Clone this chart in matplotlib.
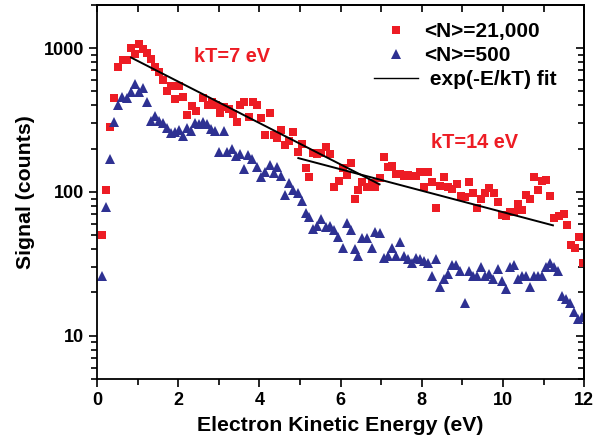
import matplotlib.pyplot as plt
from matplotlib.lines import Line2D
from matplotlib.ticker import LogLocator, NullFormatter, MultipleLocator

plt.rcParams['font.family'] = ['Liberation Sans', 'DejaVu Sans']
plt.rcParams['font.weight'] = 'bold'

# <N>=21,000 (red squares)
red_x = [0.12, 0.22, 0.32, 0.42, 0.52, 0.64, 0.74, 0.84, 0.94, 1.04, 1.14, 1.23, 1.33,
         1.43, 1.53, 1.63, 1.73, 1.83, 1.93, 2.02, 2.12, 2.22, 2.35, 2.44, 2.62, 2.74,
         2.84, 2.94, 3.04, 3.14, 3.26, 3.36, 3.46, 3.53, 3.63, 3.75, 3.85, 3.95, 4.05,
         4.15, 4.25, 4.35, 4.44, 4.54, 4.64, 4.74, 4.84, 4.94, 5.04, 5.14, 5.23, 5.33,
         5.43, 5.53, 5.65, 5.75, 5.85, 5.95, 6.05, 6.15, 6.25, 6.35, 6.44, 6.54, 6.64,
         6.77, 6.86, 6.96, 7.06, 7.16, 7.26, 7.36, 7.46, 7.56, 7.65, 7.75, 7.85, 7.95,
         8.05, 8.15, 8.25, 8.35, 8.44, 8.54, 8.64, 8.74, 8.86, 8.96, 9.06, 9.16, 9.26,
         9.36, 9.46, 9.56, 9.65, 9.78, 9.88, 9.98, 10.07, 10.17, 10.27, 10.37, 10.47,
         10.57, 10.67, 10.77, 10.86, 10.96, 11.06, 11.16, 11.26, 11.38, 11.51, 11.58,
         11.68, 11.78, 11.88, 11.98]
red_y = [50, 104, 285, 447, 746, 822, 830, 1000, 905, 1075, 980, 920, 835,
         735, 680, 605, 500, 545, 440, 545, 460, 345, 395, 365, 447, 400,
         425, 405, 357, 393, 375, 346, 305, 400, 420, 330, 420, 405, 325,
         250, 357, 250, 236, 268, 212, 228, 260, 189, 214, 146, 128, 186,
         185, 186, 207, 183, 109, 120, 146, 132, 160, 90, 103, 118, 108,
         115, 108, 125, 174, 148, 151, 133, 133, 130, 131, 130, 130, 137,
         108, 137, 117, 77, 110, 127, 108, 105, 113, 93, 92, 117, 98,
         77, 90, 98, 106, 98, 85, 69, 68, 72, 73, 83, 75,
         95, 90, 127, 103, 119, 121, 93, 66, 68, 70, 59,
         43, 41, 49, 32]

# <N>=500 (blue triangles)
blue_x = [0.12, 0.22, 0.32, 0.42, 0.52, 0.62, 0.74, 0.84, 0.94, 1.04, 1.14, 1.23, 1.33,
          1.43, 1.53, 1.63, 1.73, 1.83, 1.93, 2.02, 2.12, 2.22, 2.32, 2.42, 2.52, 2.62,
          2.72, 2.81, 2.91, 3.01, 3.14, 3.21, 3.33, 3.43, 3.53, 3.63, 3.73, 3.83, 3.93,
          4.05, 4.15, 4.25, 4.35, 4.44, 4.54, 4.64, 4.74, 4.84, 4.94, 5.04, 5.14, 5.23,
          5.33, 5.43, 5.53, 5.63, 5.73, 5.83, 5.93, 6.05, 6.15, 6.25, 6.35, 6.44, 6.54,
          6.64, 6.77, 6.86, 6.96, 7.06, 7.16, 7.26, 7.36, 7.46, 7.56, 7.65, 7.75, 7.85,
          7.95, 8.05, 8.15, 8.25, 8.35, 8.44, 8.54, 8.64, 8.74, 8.84, 8.94, 9.06, 9.16,
          9.26, 9.36, 9.46, 9.56, 9.65, 9.75, 9.88, 9.98, 10.07, 10.17, 10.27, 10.37,
          10.47, 10.57, 10.67, 10.77, 10.86, 10.96, 11.06, 11.16, 11.26, 11.36, 11.46,
          11.56, 11.65, 11.75, 11.85, 11.95]
blue_y = [26, 79, 169, 305, 400, 460, 447, 495, 560, 495, 525, 425, 310,
          340, 310, 300, 277, 256, 260, 268, 245, 280, 265, 300, 295, 305,
          295, 272, 265, 190, 265, 190, 200, 177, 185, 144, 180, 170, 150,
          128, 137, 153, 135, 150, 130, 95, 115, 103, 99, 87, 71, 67,
          55, 58, 65, 57, 58, 54, 49, 41, 61, 54, 40, 36, 48,
          48, 41, 53, 52, 35, 36, 41, 36, 45, 36, 34, 32, 35,
          34, 33, 32, 26, 34, 22, 25, 27, 31, 31, 28, 17, 28,
          26, 26, 30, 26, 27, 25, 29, 24, 21, 30, 31, 25,
          26, 26, 22, 26, 26, 26, 30, 32, 30, 28, 19,
          18, 17, 14.6, 13, 13.5]

# exp(-E/kT) fit lines (end points)
fit1_x = [0.84, 6.96]
fit1_y = [861, 113]
fit2_x = [4.96, 11.23]
fit2_y = [172, 58.6]

red = '#ed1c24'
blue = '#2e3192'

fig = plt.figure(figsize=(6.06, 4.48), dpi=100)
ax = fig.add_axes([0.16, 0.154, 0.804, 0.835])

ax.plot(red_x, red_y, 's', color=red, markersize=6, markeredgewidth=0)
ax.plot(blue_x, blue_y, '^', color=blue, markersize=7.2, markeredgewidth=0)
ax.plot(fit1_x, fit1_y, '-', color='black', lw=1.4)
ax.plot(fit2_x, fit2_y, '-', color='black', lw=1.4)

ax.set_yscale('log')
ax.set_xlim(0, 12)
ax.set_ylim(5, 2000)
ax.xaxis.set_major_locator(MultipleLocator(2))
ax.xaxis.set_minor_locator(MultipleLocator(1))
ax.yaxis.set_minor_locator(LogLocator(base=10, subs=range(2, 10)))
ax.yaxis.set_minor_formatter(NullFormatter())
ax.set_yticks([10, 100, 1000])
ax.set_yticklabels(['10', '100', '1000'])

for s in ax.spines.values():
    s.set_linewidth(1.3)
ax.tick_params(which='both', direction='out', top=False, right=False, width=1.2,
               labelsize=13)
ax.tick_params(which='major', length=6)
ax.tick_params(which='minor', length=4)

# mirrored axes with inward ticks, no labels
top = ax.secondary_xaxis('top')
top.xaxis.set_major_locator(MultipleLocator(1))
top.tick_params(direction='in', length=5, width=1.2, labeltop=False)
right = ax.secondary_yaxis('right')
right.set_yticks([10, 100, 1000])
right.yaxis.set_minor_locator(LogLocator(base=10, subs=range(2, 10)))
right.yaxis.set_minor_formatter(NullFormatter())
right.tick_params(which='major', direction='in', length=6, width=1.2, labelright=False)
right.tick_params(which='minor', direction='in', length=4, width=1.2, labelright=False)
right.spines['right'].set_linewidth(1.3)
top.spines['top'].set_linewidth(1.3)

ax.set_xlabel('Electron Kinetic Energy (eV)', fontsize=15.3, fontweight='bold', labelpad=5)
ax.set_ylabel('Signal (counts)', fontsize=15.3, fontweight='bold', labelpad=6)

ax.text(2.4, 875, 'kT=7 eV', color=red, fontsize=14.4, fontweight='bold', va='center')
ax.text(8.22, 221, 'kT=14 eV', color=red, fontsize=14.4, fontweight='bold', va='center')

handles = [Line2D([], [], ls='none', marker='s', color=red, markersize=6, markeredgewidth=0),
           Line2D([], [], ls='none', marker='^', color=blue, markersize=7.2, markeredgewidth=0),
           Line2D([], [], color='black', lw=1)]
ax.legend(handles, ['<N>=21,000', '<N>=500', ' exp(-E/kT) fit'], loc='upper left',
          bbox_to_anchor=(374 / 606, 1 - 22 / 448), bbox_transform=fig.transFigure,
          frameon=False, handlelength=2.1, handletextpad=0.3, borderpad=0,
          borderaxespad=0, labelspacing=0.25, prop={'weight': 'bold', 'size': 15})

fig.savefig('out.png', dpi=100)
